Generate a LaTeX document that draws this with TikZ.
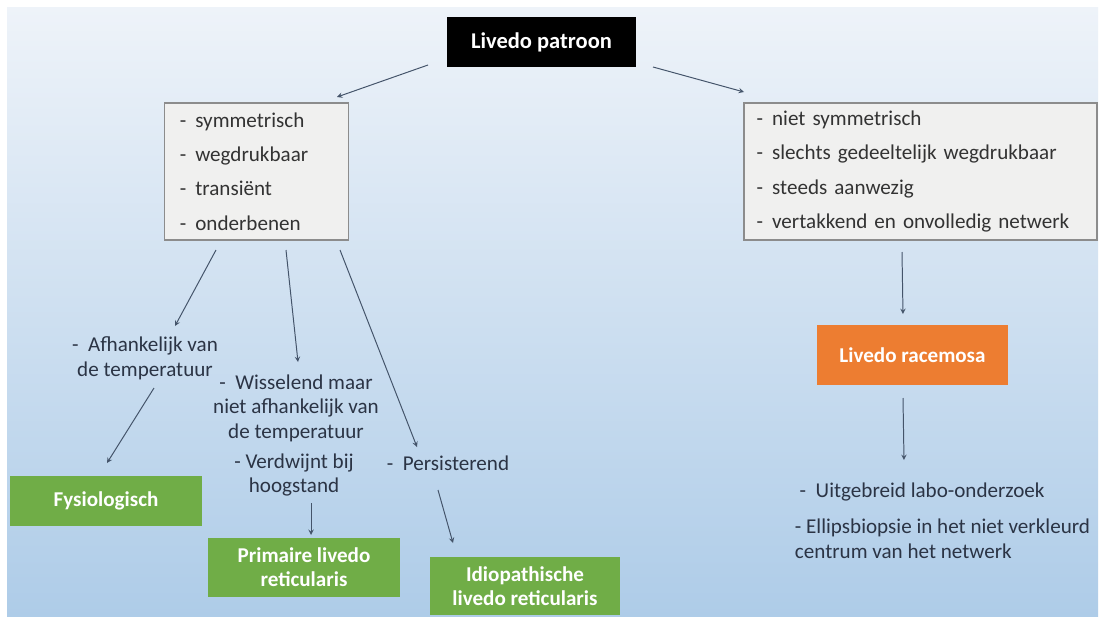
\documentclass[tikz,border=0pt]{standalone}
\usepackage{fontspec}
\setmainfont{Carlito}
\usepackage{tikz}

\definecolor{bgtop}{HTML}{EEF3F9}
\definecolor{bgmid}{HTML}{C5DBEE}
\definecolor{bgbot}{HTML}{AECCE8}
\definecolor{boxgray}{HTML}{F0F0EF}
\definecolor{linegray}{HTML}{8C8C8C}
\definecolor{arrowblue}{HTML}{44546A}
\definecolor{textblue}{HTML}{2B3445}
\definecolor{racemosa}{HTML}{ED7D31}
\definecolor{reticularis}{HTML}{70AD47}

\begin{document}
\begin{tikzpicture}[x=0.025cm, y=-0.025cm, >=stealth,
    listbox/.style={draw=linegray, line width=0.8pt, fill=boxgray, align=left,
      text=black!80, font=\fontsize{15}{24.5}\selectfont, minimum height=97.5pt},
    titlebox/.style={inner sep=0pt, align=center, text=white,
      font=\fontsize{15}{17}\selectfont\bfseries},
    plaintext/.style={align=center, text=textblue, font=\fontsize{15}{17.5}\selectfont},
    arrow/.style={->, arrowblue, line width=0.7pt}]
                \useasboundingbox (0,0) rectangle (1101,618);
                % Draw the background
                \fill[white] (0,0) rectangle (1101,618);
                \shade[top color=bgtop, middle color=bgmid, bottom color=bgbot] (7,7) rectangle (1098,616);

                % Define the coordinates
                \coordinate (T1) at (428,65);
                \coordinate (T1') at (337,97);
                \coordinate (T2) at (653,67);
                \coordinate (T2') at (744,92);
                \coordinate (L1) at (216,250);
                \coordinate (L1') at (175,326);
                \coordinate (L2) at (286,250);
                \coordinate (L2') at (298,362);
                \coordinate (L3) at (340,250);
                \coordinate (L3') at (417,447);
                \coordinate (F) at (154,388);
                \coordinate (F') at (107,463);
                \coordinate (P) at (311,503);
                \coordinate (P') at (311,535);
                \coordinate (I) at (438,490);
                \coordinate (I') at (453,543);
                \coordinate (R1) at (902,252);
                \coordinate (R1') at (903,314);
                \coordinate (R2) at (903,398);
                \coordinate (R2') at (904,460);

                % Draw the top box
                \node[titlebox, fill=black, minimum width=135pt, minimum height=35.6pt,
                  font=\fontsize{16}{18}\selectfont\bfseries] (patroon) at (541.5,42) {Livedo patroon};

                % Draw the two lists
                \node[listbox, inner xsep=11pt, text width=109pt] (reticular) at (256.5,171.5)
                {\makebox[11pt][l]{-}symmetrisch\\ \makebox[11pt][l]{-}wegdrukbaar\\
                 \makebox[11pt][l]{-}transiënt\\ \makebox[11pt][l]{-}onderbenen};
                \node[listbox, inner xsep=9pt, text width=233pt] (racemose) at (920.5,171.5)
                {\makebox[11pt][l]{-}niet symmetrisch\\ \makebox[11pt][l]{-}slechts gedeeltelijk wegdrukbaar\\
                 \makebox[11pt][l]{-}steeds aanwezig\\ \makebox[11pt][l]{-}vertakkend en onvolledig netwerk};

                % Draw the features
                \node[plaintext] (afh) at (145,358.5) {- \ Afhankelijk van\\ de temperatuur};
                \node[plaintext] (wis) at (296,408) {- \ Wisselend maar\\ niet afhankelijk van\\ de temperatuur};
                \node[plaintext] (ver) at (294,475) {- Verdwijnt bij\\ hoogstand};
                \node[plaintext] (per) at (448,463) {- \ Persisterend};
                \node[plaintext, align=left, anchor=north west] (labo) at (790,478)
                {\ - \ Uitgebreid labo-onderzoek\\[8pt] - Ellipsbiopsie in het niet verkleurd\\ centrum van het netwerk};

                % Draw the diagnoses
                \node[titlebox, fill=reticularis, minimum width=136.6pt, minimum height=35pt] (fysio) at (106,501) {Fysiologisch};
                \node[titlebox, fill=reticularis, minimum width=136.6pt, minimum height=42pt] (primair) at (304,567.5) {Primaire livedo\\ reticularis};
                \node[titlebox, fill=reticularis, minimum width=135pt, minimum height=41.3pt] (idio) at (525,586) {Idiopathische\\ livedo reticularis};
                \node[titlebox, fill=racemosa, minimum width=135.9pt, minimum height=42.7pt] (race) at (912.5,355) {Livedo racemosa};

                % Draw the arrows
                \draw[arrow] (T1) -- (T1');
                \draw[arrow] (T2) -- (T2');
                \draw[arrow] (L1) -- (L1');
                \draw[arrow] (L2) -- (L2');
                \draw[arrow] (L3) -- (L3');
                \draw[arrow] (F) -- (F');
                \draw[arrow] (P) -- (P');
                \draw[arrow] (I) -- (I');
                \draw[arrow] (R1) -- (R1');
                \draw[arrow] (R2) -- (R2');
              \end{tikzpicture}
\end{document}
